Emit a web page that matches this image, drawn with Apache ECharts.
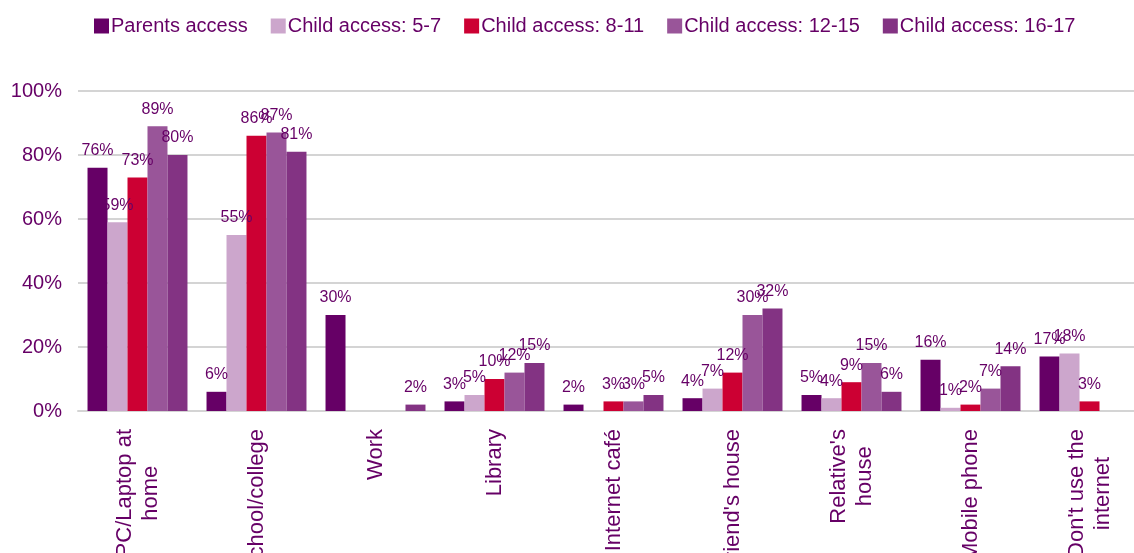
<!DOCTYPE html>
<html>
<head>
<meta charset="utf-8">
<script src="https://cdn.jsdelivr.net/npm/echarts@6/dist/echarts.min.js"></script>
<style>
  html, body { margin: 0; padding: 0; background: #ffffff; }
  #chart { width: 1134px; height: 553px; }
</style>
</head>
<body>
<div id="chart"></div>
<script>
// Where parents and children access the internet (% of respondents)
const categories = [
  'PC/Laptop at\nhome',
  'School/college',
  'Work',
  'Library',
  'Internet café',
  "Friend's house",
  "Relative's\nhouse",
  'Mobile phone',
  "Don't use the\ninternet"
];

const parentsAccess = [76, 6, 30, 3, 2, 4, 5, 16, 17];
const childAccess5to7 = [59, 55, null, 5, null, 7, 4, 1, 18];
const childAccess8to11 = [73, 86, null, 10, 3, 12, 9, 2, 3];
const childAccess12to15 = [89, 87, null, 12, 3, 30, 15, 7, null];
const childAccess16to17 = [80, 81, 2, 15, 5, 32, 6, 14, null];

const seriesNames = [
  'Parents access',
  'Child access: 5-7',
  'Child access: 8-11',
  'Child access: 12-15',
  'Child access: 16-17'
];
const seriesColors = ['#660066', '#CCA6CC', '#CC0033', '#995599', '#833383'];
const seriesValues = [parentsAccess, childAccess5to7, childAccess8to11, childAccess12to15, childAccess16to17];

const yTicks = [0, 20, 40, 60, 80, 100];

const textColor = '#660066';
const fontFamily = '"Liberation Sans", Arial, sans-serif';

const chart = echarts.init(document.getElementById('chart'));

chart.setOption({
  backgroundColor: '#ffffff',
  animation: false,
  textStyle: { fontFamily: fontFamily, color: textColor },
  legend: {
    top: 11,
    left: 89,
    itemWidth: 15,
    itemHeight: 15,
    itemGap: 23,
    icon: 'rect',
    textStyle: { fontSize: 20, color: textColor, fontFamily: fontFamily, padding: [0, 0, 0, -3] },
    data: seriesNames
  },
  grid: {
    left: 78,
    top: 91,
    width: 1071,
    height: 320,
    containLabel: false,
    outerBoundsMode: 'none'
  },
  xAxis: {
    type: 'category',
    data: categories,
    axisTick: { show: false },
    axisLine: { lineStyle: { color: '#D4D4D4', width: 2 } },
    axisLabel: {
      interval: 0,
      rotate: 90,
      margin: 18,
      formatter: function (v) {
        return v.split('\n').map(function (s) { return '{c|' + s + '}'; }).join('\n');
      },
      rich: {
        c: {
          align: 'center',
          fontSize: 22,
          lineHeight: 26,
          color: textColor,
          fontFamily: fontFamily
        }
      }
    }
  },
  yAxis: {
    type: 'value',
    min: yTicks[0],
    max: yTicks[yTicks.length - 1],
    interval: 20,
    axisLine: { show: false },
    axisTick: { show: false },
    splitLine: { lineStyle: { color: '#D4D4D4', width: 2 } },
    axisLabel: {
      margin: 16,
      fontSize: 20,
      color: textColor,
      fontFamily: fontFamily,
      formatter: '{value}%'
    }
  },
  series: seriesNames.map(function (name, i) {
    return {
      name: name,
      type: 'bar',
      data: seriesValues[i],
      barGap: '0%',
      barCategoryGap: '16%',
      itemStyle: { color: seriesColors[i] },
      label: {
        show: true,
        position: 'top',
        distance: 9,
        fontSize: 16,
        color: textColor,
        fontFamily: fontFamily,
        formatter: '{c}%'
      }
    };
  })
});
</script>
</body>
</html>
